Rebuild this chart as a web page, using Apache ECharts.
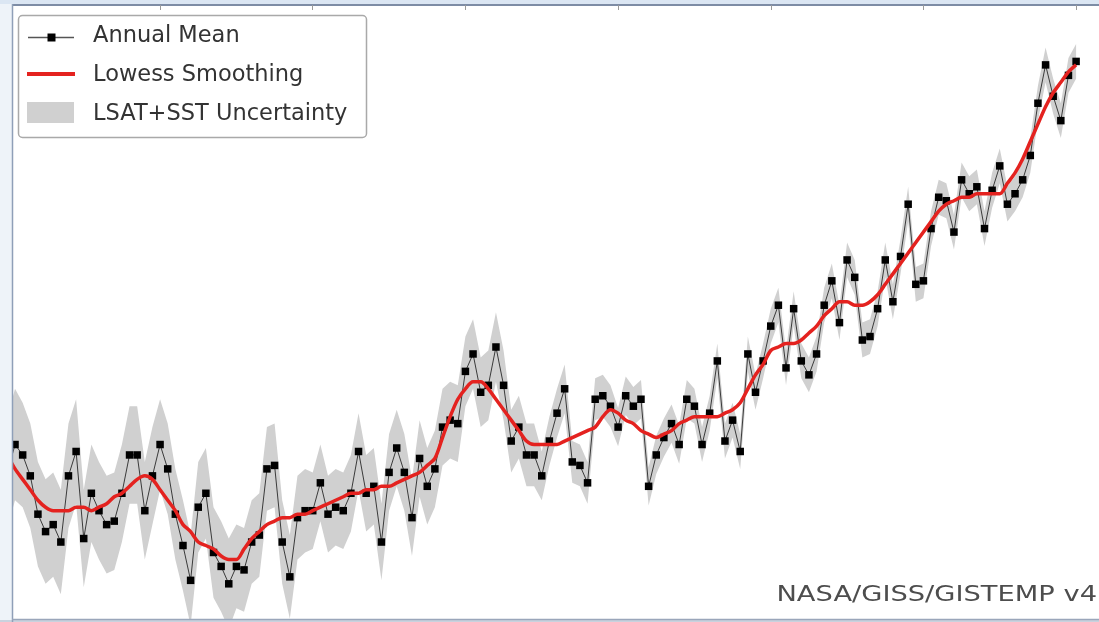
<!DOCTYPE html>
<html>
<head>
<meta charset="utf-8">
<script src="https://cdn.jsdelivr.net/npm/echarts@6/dist/echarts.min.js"></script>
<style>
  html, body { margin: 0; padding: 0; background: #ffffff; }
  #chart { width: 1099px; height: 622px; }
</style>
</head>
<body>
<div id="chart"></div>
<script>
// Global land-ocean temperature index, annual means 1880-2020 (°C anomaly)
const annualMean = [
  -0.16, -0.08, -0.11, -0.17, -0.28, -0.33, -0.31, -0.36, -0.17, -0.10,
  -0.35, -0.22, -0.27, -0.31, -0.30, -0.22, -0.11, -0.11, -0.27, -0.17,
  -0.08, -0.15, -0.28, -0.37, -0.47, -0.26, -0.22, -0.39, -0.43, -0.48,
  -0.43, -0.44, -0.36, -0.34, -0.15, -0.14, -0.36, -0.46, -0.29, -0.27,
  -0.27, -0.19, -0.28, -0.26, -0.27, -0.22, -0.10, -0.22, -0.20, -0.36,
  -0.16, -0.09, -0.16, -0.29, -0.12, -0.20, -0.15, -0.03, -0.01, -0.02,
   0.13,  0.18,  0.07,  0.09,  0.20,  0.09, -0.07, -0.03, -0.11, -0.11,
  -0.17, -0.07,  0.01,  0.08, -0.13, -0.14, -0.19,  0.05,  0.06,  0.03,
  -0.03,  0.06,  0.03,  0.05, -0.20, -0.11, -0.06, -0.02, -0.08,  0.05,
   0.03, -0.08,  0.01,  0.16, -0.07, -0.01, -0.10,  0.18,  0.07,  0.16,
   0.26,  0.32,  0.14,  0.31,  0.16,  0.12,  0.18,  0.32,  0.39,  0.27,
   0.45,  0.40,  0.22,  0.23,  0.31,  0.45,  0.33,  0.46,  0.61,  0.38,
   0.39,  0.54,  0.63,  0.62,  0.53,  0.68,  0.64,  0.66,  0.54,  0.65,
   0.72,  0.61,  0.64,  0.68,  0.75,  0.90,  1.01,  0.92,  0.85,  0.98,
   1.02
];

// Lowess smoothed curve, one value per year
const lowess = [
  -0.11, -0.15, -0.18, -0.21, -0.24, -0.26, -0.27, -0.27, -0.27, -0.26,
  -0.26, -0.27, -0.26, -0.25, -0.23, -0.22, -0.20, -0.18, -0.17, -0.18,
  -0.21, -0.24, -0.27, -0.31, -0.33, -0.36, -0.37, -0.38, -0.40, -0.41,
  -0.41, -0.38, -0.35, -0.33, -0.31, -0.30, -0.29, -0.29, -0.28, -0.28,
  -0.27, -0.26, -0.25, -0.24, -0.23, -0.22, -0.22, -0.21, -0.21, -0.20,
  -0.20, -0.19, -0.18, -0.17, -0.16, -0.14, -0.12, -0.06,  0.00,  0.05,
   0.08,  0.10,  0.10,  0.08,  0.05,  0.02, -0.01, -0.04, -0.07, -0.08,
  -0.08, -0.08, -0.08, -0.07, -0.06, -0.05, -0.04, -0.03,  0.00,  0.02,
   0.01, -0.01, -0.02, -0.04, -0.05, -0.06, -0.05, -0.04, -0.02, -0.01,
   0.00,  0.00,  0.00,  0.00,  0.01,  0.02,  0.04,  0.08,  0.12,  0.15,
   0.19,  0.20,  0.21,  0.21,  0.22,  0.24,  0.26,  0.29,  0.31,  0.33,
   0.33,  0.32,  0.32,  0.33,  0.35,  0.38,  0.41,  0.44,  0.47,  0.50,
   0.53,  0.56,  0.59,  0.61,  0.62,  0.63,  0.63,  0.64,  0.64,  0.64,
   0.64,  0.67,  0.70,  0.74,  0.79,  0.84,  0.89,  0.93,  0.96,  0.99,
   1.01
];

// Combined LSAT+SST uncertainty (half-width of the band), one value per year
const uncertainty = [
  0.16, 0.16, 0.15, 0.15, 0.15, 0.15, 0.15, 0.15, 0.15, 0.15,
  0.14, 0.14, 0.14, 0.14, 0.14, 0.14, 0.14, 0.14, 0.14, 0.14,
  0.13, 0.13, 0.13, 0.13, 0.13, 0.13, 0.13, 0.13, 0.13, 0.13,
  0.12, 0.12, 0.12, 0.12, 0.12, 0.12, 0.12, 0.12, 0.12, 0.12,
  0.11, 0.11, 0.11, 0.11, 0.11, 0.11, 0.11, 0.11, 0.11, 0.11,
  0.11, 0.11, 0.11, 0.11, 0.11, 0.11, 0.11, 0.11, 0.11, 0.11,
  0.10, 0.10, 0.10, 0.10, 0.10, 0.10, 0.09, 0.09, 0.09, 0.09,
  0.07, 0.07, 0.07, 0.07, 0.06, 0.06, 0.06, 0.06, 0.06, 0.06,
  0.055, 0.055, 0.055, 0.055, 0.055, 0.055, 0.055, 0.055, 0.055, 0.055,
  0.05, 0.05, 0.05, 0.05, 0.05, 0.05, 0.05, 0.05, 0.05, 0.05,
  0.05, 0.05, 0.05, 0.05, 0.05, 0.05, 0.05, 0.05, 0.05, 0.05,
  0.05, 0.05, 0.05, 0.05, 0.05, 0.05, 0.05, 0.05, 0.05, 0.05,
  0.05, 0.05, 0.05, 0.05, 0.05, 0.05, 0.05, 0.05, 0.05, 0.05,
  0.05, 0.05, 0.05, 0.05, 0.05, 0.05, 0.05, 0.05, 0.05, 0.05,
  0.05
];

const firstYear = 1880;
const years = annualMean.map((_, i) => firstYear + i);

const legendLabels = ['Annual Mean', 'Lowess Smoothing', 'LSAT+SST Uncertainty'];
const creditText = 'NASA/GISS/GISTEMP v4';

const meanPairs = years.map((y, i) => [y, annualMean[i]]);
const lowessPairs = years.map((y, i) => [y, lowess[i]]);
// band rows: [year, lower bound, upper bound]
const bandRows = years.map((y, i) => [y, annualMean[i] - uncertainty[i], annualMean[i] + uncertainty[i]]);

const FONT = '"DejaVu Sans", "Liberation Sans", sans-serif';
const RED = '#e4221f';
const BAND = '#d0d0d0';

// Uncertainty envelope: one polygon traced along the upper bounds and back along the lower bounds
function renderBand(params, api) {
  if (params.dataIndex !== 0) return null;
  const upper = bandRows.map(r => api.coord([r[0], r[2]]));
  const lower = bandRows.map(r => api.coord([r[0], r[1]])).reverse();
  return {
    type: 'polygon',
    shape: { points: upper.concat(lower) },
    style: { fill: BAND, stroke: null }
  };
}

const chart = echarts.init(document.getElementById('chart'), null, { renderer: 'canvas' });

chart.setOption({
  animation: false,
  backgroundColor: '#ffffff',
  grid: { left: 7.4, top: 5, right: 0, height: 614, containLabel: false },
  xAxis: {
    type: 'value',
    position: 'top',
    min: 1880,
    max: 2023,
    interval: 20,
    axisLine: { show: true, onZero: false, lineStyle: { color: '#7d8ca5', width: 2 } },
    axisTick: { show: true, inside: true, length: 5, lineStyle: { color: '#9a9a9a', width: 1 } },
    axisLabel: { show: false },
    splitLine: { show: false }
  },
  yAxis: {
    type: 'value',
    min: -0.581,
    max: 1.182,
    axisLine: { show: false },
    axisTick: { show: false },
    axisLabel: { show: false },
    splitLine: { show: false }
  },
  series: [
    {
      name: legendLabels[2],
      type: 'custom',
      data: bandRows,
      encode: { x: 0, y: [1, 2] },
      renderItem: renderBand,
      clip: true,
      silent: true,
      z: 1
    },
    {
      name: legendLabels[0],
      type: 'line',
      data: meanPairs,
      symbol: 'rect',
      symbolSize: 7.5,
      showAllSymbol: true,
      itemStyle: { color: '#000000' },
      lineStyle: { color: '#3a3a3a', width: 1 },
      z: 3
    },
    {
      name: legendLabels[1],
      type: 'line',
      data: lowessPairs,
      symbol: 'none',
      smooth: 0.3,
      lineStyle: { color: RED, width: 3.5 },
      z: 4
    }
  ],
  graphic: [
    // frame strips around the plot
    { type: 'rect', shape: { x: 0, y: 0, width: 12, height: 622 }, style: { fill: '#eef3f9' }, z: 100, silent: true },
    { type: 'rect', shape: { x: 0, y: 0, width: 1099, height: 4 }, style: { fill: '#dbe6f3' }, z: 100, silent: true },
    { type: 'rect', shape: { x: 0, y: 620, width: 1099, height: 2 }, style: { fill: '#c9d2de' }, z: 100, silent: true },
    { type: 'line', shape: { x1: 12.5, y1: 4, x2: 12.5, y2: 622 }, style: { stroke: '#8f9fb8', lineWidth: 1.5 }, z: 101, silent: true },
    { type: 'line', shape: { x1: 12, y1: 619.5, x2: 1099, y2: 619.5 }, style: { stroke: '#9aa6ba', lineWidth: 1.5 }, z: 101, silent: true },

    // legend box
    { type: 'rect', shape: { x: 18.5, y: 15.5, width: 348, height: 122, r: 4 }, style: { fill: '#ffffff', stroke: '#a9a9a9', lineWidth: 1.5 }, z: 110, silent: true },
    { type: 'line', shape: { x1: 28, y1: 37.5, x2: 74, y2: 37.5 }, style: { stroke: '#555555', lineWidth: 1.5 }, z: 111, silent: true },
    { type: 'rect', shape: { x: 47.5, y: 33.5, width: 8, height: 8 }, style: { fill: '#000000' }, z: 112, silent: true },
    { type: 'line', shape: { x1: 27, y1: 74, x2: 75, y2: 74 }, style: { stroke: RED, lineWidth: 4 }, z: 111, silent: true },
    { type: 'rect', shape: { x: 27, y: 102, width: 47, height: 21 }, style: { fill: BAND }, z: 111, silent: true },
    { type: 'text', x: 93, y: 36.5, style: { text: legendLabels[0], fontSize: 22.5, fontFamily: FONT, fill: '#333333', align: 'left', verticalAlign: 'middle' }, z: 112, silent: true },
    { type: 'text', x: 93, y: 75.5, style: { text: legendLabels[1], fontSize: 22.5, fontFamily: FONT, fill: '#333333', align: 'left', verticalAlign: 'middle' }, z: 112, silent: true },
    { type: 'text', x: 93, y: 114, style: { text: legendLabels[2], fontSize: 22.5, fontFamily: FONT, fill: '#333333', align: 'left', verticalAlign: 'middle' }, z: 112, silent: true },

    // credit line
    { type: 'text', x: 1097, y: 596, scaleX: 1.3, style: { text: creditText, fontSize: 21, fontFamily: FONT, fill: '#4d4d4d', align: 'right', verticalAlign: 'middle' }, z: 105, silent: true }
  ]
});
</script>
</body>
</html>
